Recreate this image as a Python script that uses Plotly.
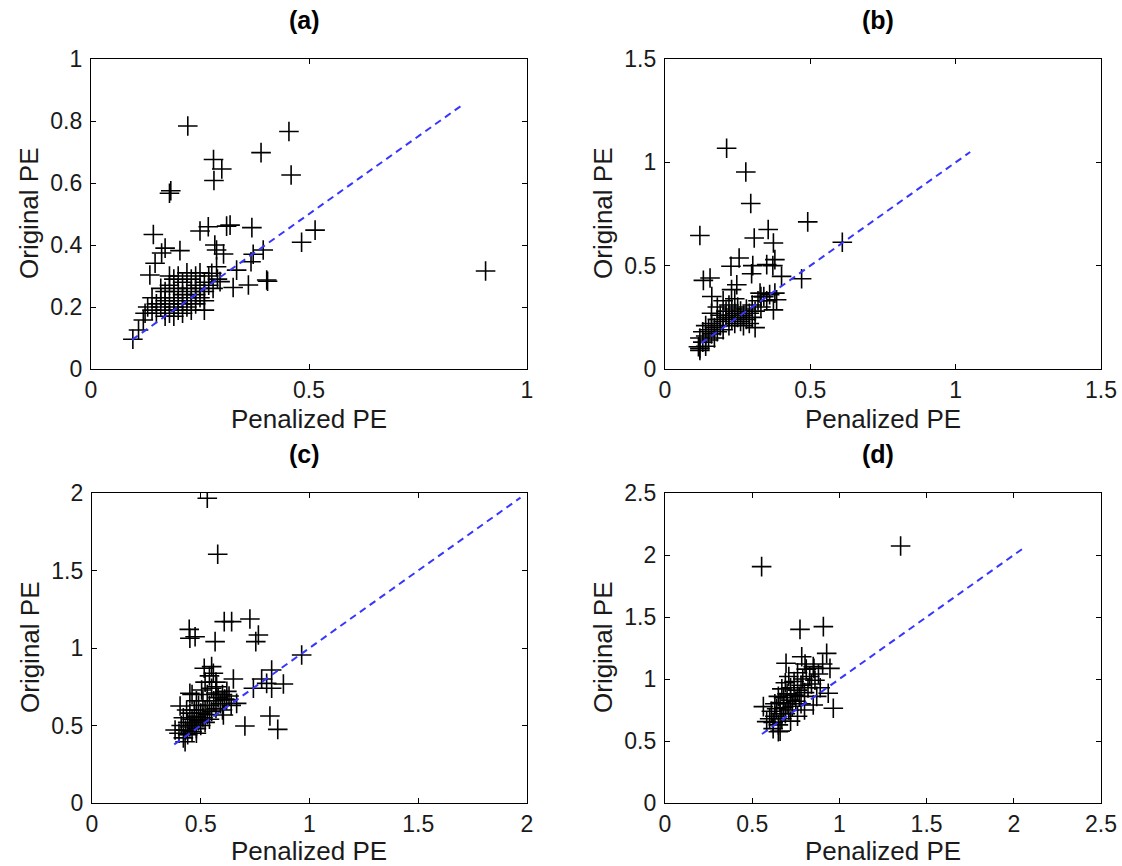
import plotly.graph_objects as go

# Panel (a): penalized vs original prediction error
a_pen = [0.222, 0.454, 0.390, 0.281, 0.300, 0.282, 0.459, 0.183, 0.180, 0.143, 0.170, 0.162,
         0.204, 0.250, 0.269, 0.311, 0.319, 0.369, 0.284, 0.288, 0.304, 0.514, 0.483, 0.395,
         0.372, 0.367, 0.403, 0.405, 0.361, 0.326, 0.296, 0.334, 0.288, 0.277, 0.147, 0.135,
         0.124, 0.120, 0.109, 0.096, 0.905,
         0.13, 0.14, 0.15, 0.15, 0.16, 0.16, 0.17, 0.17, 0.17, 0.18, 0.18, 0.18, 0.19, 0.19,
         0.19, 0.19, 0.20, 0.20, 0.20, 0.20, 0.21, 0.21, 0.21, 0.22, 0.22, 0.22, 0.22, 0.23,
         0.23, 0.23, 0.24, 0.24, 0.24, 0.24, 0.25, 0.25, 0.25, 0.26, 0.26, 0.26, 0.27, 0.27,
         0.28, 0.29, 0.14, 0.16, 0.18, 0.21, 0.23, 0.26, 0.17, 0.19]
a_org = [0.784, 0.766, 0.698, 0.676, 0.645, 0.608, 0.626, 0.575, 0.567, 0.434, 0.390, 0.374,
         0.382, 0.445, 0.459, 0.461, 0.464, 0.456, 0.400, 0.384, 0.371, 0.448, 0.409, 0.384,
         0.370, 0.346, 0.287, 0.283, 0.271, 0.263, 0.282, 0.319, 0.330, 0.309, 0.341, 0.303,
         0.180, 0.158, 0.126, 0.096, 0.316,
         0.20, 0.19, 0.21, 0.18, 0.20, 0.23, 0.19, 0.22, 0.25, 0.21, 0.18, 0.27, 0.20, 0.23,
         0.25, 0.29, 0.19, 0.22, 0.26, 0.30, 0.21, 0.24, 0.28, 0.20, 0.23, 0.26, 0.31, 0.22,
         0.25, 0.29, 0.21, 0.24, 0.27, 0.30, 0.23, 0.26, 0.31, 0.25, 0.28, 0.22, 0.27, 0.30,
         0.26, 0.29, 0.23, 0.26, 0.30, 0.18, 0.19, 0.19, 0.17, 0.17]

# Panel (b)
b_pen = [0.212, 0.278, 0.295, 0.491, 0.120, 0.355, 0.307, 0.373, 0.610, 0.255, 0.227, 0.302,
         0.298, 0.350, 0.371, 0.378, 0.470, 0.401, 0.132, 0.155, 0.161, 0.247, 0.229, 0.327,
         0.378, 0.384, 0.373, 0.330, 0.115, 0.120,
         0.12, 0.13, 0.13, 0.14, 0.14, 0.15, 0.15, 0.16, 0.16, 0.17, 0.17, 0.18, 0.18, 0.19,
         0.19, 0.20, 0.20, 0.21, 0.21, 0.22, 0.22, 0.23, 0.23, 0.24, 0.24, 0.25, 0.25, 0.26,
         0.26, 0.27, 0.28, 0.28, 0.29, 0.30, 0.30, 0.31, 0.32, 0.33, 0.34, 0.35, 0.36, 0.16,
         0.18, 0.20, 0.22, 0.24, 0.27, 0.29, 0.31, 0.14, 0.12]
b_org = [1.068, 0.953, 0.801, 0.712, 0.646, 0.675, 0.634, 0.610, 0.613, 0.537, 0.497, 0.500,
         0.461, 0.505, 0.500, 0.529, 0.437, 0.448, 0.429, 0.440, 0.351, 0.408, 0.384, 0.367,
         0.367, 0.335, 0.286, 0.350, 0.108, 0.090,
         0.15, 0.13, 0.18, 0.16, 0.21, 0.14, 0.19, 0.17, 0.22, 0.20, 0.15, 0.18, 0.24, 0.21,
         0.26, 0.19, 0.23, 0.25, 0.28, 0.21, 0.26, 0.24, 0.29, 0.22, 0.27, 0.25, 0.30, 0.23,
         0.28, 0.26, 0.24, 0.29, 0.27, 0.25, 0.31, 0.28, 0.33, 0.30, 0.35, 0.33, 0.36, 0.27,
         0.30, 0.33, 0.31, 0.34, 0.21, 0.22, 0.20, 0.11, 0.10]

# Panel (c)
c_pen = [0.530, 0.578, 0.447, 0.450, 0.474, 0.608, 0.642, 0.726, 0.765, 0.753, 0.566, 0.964,
         0.516, 0.550, 0.558, 0.650, 0.826, 0.780, 0.803, 0.880, 0.742, 0.826, 0.818, 0.854,
         0.703, 0.450, 0.405, 0.435, 0.504, 0.573, 0.619, 0.665, 0.604, 0.382, 0.428, 0.480,
         0.40, 0.41, 0.42, 0.42, 0.43, 0.44, 0.44, 0.45, 0.45, 0.46, 0.46, 0.47, 0.47, 0.48,
         0.48, 0.49, 0.49, 0.50, 0.50, 0.51, 0.51, 0.52, 0.52, 0.53, 0.53, 0.54, 0.54, 0.55,
         0.55, 0.56, 0.57, 0.57, 0.58, 0.59, 0.60, 0.61, 0.62, 0.63, 0.52, 0.54, 0.57, 0.48,
         0.46, 0.60, 0.64]
c_org = [1.966, 1.605, 1.120, 1.063, 1.073, 1.170, 1.170, 1.187, 1.084, 1.041, 1.041, 0.955,
         0.869, 0.880, 0.837, 0.800, 0.858, 0.800, 0.772, 0.768, 0.740, 0.740, 0.561, 0.475,
         0.497, 0.708, 0.626, 0.600, 0.729, 0.750, 0.665, 0.643, 0.568, 0.471, 0.395, 0.450,
         0.45, 0.50, 0.42, 0.55, 0.47, 0.52, 0.44, 0.49, 0.58, 0.54, 0.46, 0.51, 0.60, 0.56,
         0.48, 0.53, 0.63, 0.58, 0.50, 0.55, 0.66, 0.60, 0.52, 0.57, 0.70, 0.63, 0.54, 0.59,
         0.74, 0.66, 0.61, 0.71, 0.68, 0.64, 0.70, 0.67, 0.72, 0.69, 0.78, 0.82, 0.78, 0.66,
         0.70, 0.60, 0.63]

# Panel (d)
d_pen = [1.351, 0.554, 0.774, 0.908, 0.927, 0.946, 0.904, 0.784, 0.803, 0.854, 0.694, 0.936,
         0.965, 0.850, 0.564, 0.583, 0.650,
         0.60, 0.61, 0.62, 0.63, 0.63, 0.64, 0.65, 0.65, 0.66, 0.66, 0.67, 0.67, 0.68, 0.68,
         0.69, 0.69, 0.70, 0.70, 0.71, 0.71, 0.72, 0.72, 0.73, 0.74, 0.74, 0.75, 0.76, 0.76,
         0.77, 0.78, 0.78, 0.79, 0.80, 0.81, 0.82, 0.83, 0.84, 0.85, 0.86, 0.88, 0.89, 0.87,
         0.62, 0.66, 0.72, 0.76, 0.80]
d_org = [2.073, 1.906, 1.400, 1.422, 1.207, 1.086, 1.121, 1.180, 1.121, 1.086, 1.127, 0.885,
         0.764, 0.790, 0.777, 0.656, 0.575,
         0.68, 0.74, 0.65, 0.80, 0.70, 0.76, 0.63, 0.86, 0.72, 0.81, 0.68, 0.92, 0.77, 0.85,
         0.72, 0.97, 0.80, 0.88, 0.75, 1.02, 0.83, 0.93, 0.78, 0.87, 0.98, 0.82, 0.91, 1.05,
         0.86, 0.95, 0.80, 1.00, 0.89, 1.08, 0.93, 1.02, 0.96, 1.10, 0.99, 1.04, 0.93, 0.86,
         0.60, 0.58, 0.66, 0.70, 0.75]

# Reference line (y = x) extent per panel
ref_lo = [0.094, 0.125, 0.378, 0.556]
ref_hi = [0.85, 1.05, 1.97, 2.06]

# Axis ranges and tick values
axis_max = [1.0, 1.5, 2.0, 2.5]
x_tick_vals = [[0, 0.5, 1], [0, 0.5, 1, 1.5], [0, 0.5, 1, 1.5, 2], [0, 0.5, 1, 1.5, 2, 2.5]]
x_tick_text = [["0", "0.5", "1"], ["0", "0.5", "1", "1.5"], ["0", "0.5", "1", "1.5", "2"],
               ["0", "0.5", "1", "1.5", "2", "2.5"]]
y_tick_vals = [[0, 0.2, 0.4, 0.6, 0.8, 1], [0, 0.5, 1, 1.5], [0, 0.5, 1, 1.5, 2],
               [0, 0.5, 1, 1.5, 2, 2.5]]
y_tick_text = [["0", "0.2", "0.4", "0.6", "0.8", "1"], ["0", "0.5", "1", "1.5"],
               ["0", "0.5", "1", "1.5", "2"], ["0", "0.5", "1", "1.5", "2", "2.5"]]
panel_titles = ["(a)", "(b)", "(c)", "(d)"]
x_label = "Penalized PE"
y_label = "Original PE"

W, H = 1122, 866
# pixel boxes of each axes frame: left, right, top, bottom
boxes = [(91, 527, 59, 369), (665, 1101, 59, 369), (92, 527, 493, 803), (665, 1101, 493, 803)]

xs = [a_pen, b_pen, c_pen, d_pen]
ys = [a_org, b_org, c_org, d_org]

FONT = "Liberation Sans"
TXT = "#1a1a1a"
fig = go.Figure()
layout = {}
for i in range(4):
    n = "" if i == 0 else str(i + 1)
    l, r, t, b = boxes[i]
    xdom = [l / W, r / W]
    ydom = [1 - b / H, 1 - t / H]
    fig.add_trace(go.Scatter(
        x=xs[i], y=ys[i], mode="markers", xaxis="x" + n, yaxis="y" + n,
        marker=dict(symbol="cross-thin", size=14, color="black",
                    line=dict(color="black", width=1.6)),
        showlegend=False, hoverinfo="skip"))
    fig.add_trace(go.Scatter(
        x=[ref_lo[i], ref_hi[i]], y=[ref_lo[i], ref_hi[i]], mode="lines",
        xaxis="x" + n, yaxis="y" + n,
        line=dict(color="#3636ff", width=2, dash="7px,5px"),
        showlegend=False, hoverinfo="skip"))
    common = dict(showline=True, linecolor="black", linewidth=1.4, mirror="allticks",
                  ticks="inside", ticklen=5, tickcolor="black", tickwidth=1,
                  showgrid=False, zeroline=False, fixedrange=True, automargin=False,
                  tickfont=dict(family=FONT, size=23, color=TXT))
    layout["xaxis" + n] = dict(common, domain=xdom, range=[0, axis_max[i]],
                               anchor="y" + n, tickvals=x_tick_vals[i],
                               ticktext=x_tick_text[i])
    layout["yaxis" + n] = dict(common, domain=ydom, range=[0, axis_max[i]],
                               anchor="x" + n, tickvals=y_tick_vals[i],
                               ticktext=y_tick_text[i], ticklabelstandoff=3)
    cx = (l + r) / 2
    cy = (t + b) / 2
    # panel title
    fig.add_annotation(text="<b>" + panel_titles[i] + "</b>", xref="paper", yref="paper",
                       x=(cx - 5) / W, y=1 - (t - 39) / H, showarrow=False,
                       font=dict(family=FONT, size=25, color="black"),
                       xanchor="center", yanchor="middle")
    # x axis label, kept inside the page at the bottom row
    label_y = min(b + 50, H - 15)
    fig.add_annotation(text=x_label, xref="paper", yref="paper",
                       x=cx / W, y=1 - label_y / H, showarrow=False,
                       font=dict(family=FONT, size=26, color=TXT),
                       xanchor="center", yanchor="middle")
    # y axis label
    fig.add_annotation(text=y_label, xref="paper", yref="paper",
                       x=(l - 62) / W, y=1 - (cy - 1) / H, showarrow=False, textangle=-90,
                       font=dict(family=FONT, size=26, color=TXT),
                       xanchor="center", yanchor="middle")

fig.update_layout(**layout)
fig.update_layout(width=W, height=H, margin=dict(l=0, r=0, t=0, b=0),
                  plot_bgcolor="white", paper_bgcolor="white", template="none")
fig.write_html("out.html")
